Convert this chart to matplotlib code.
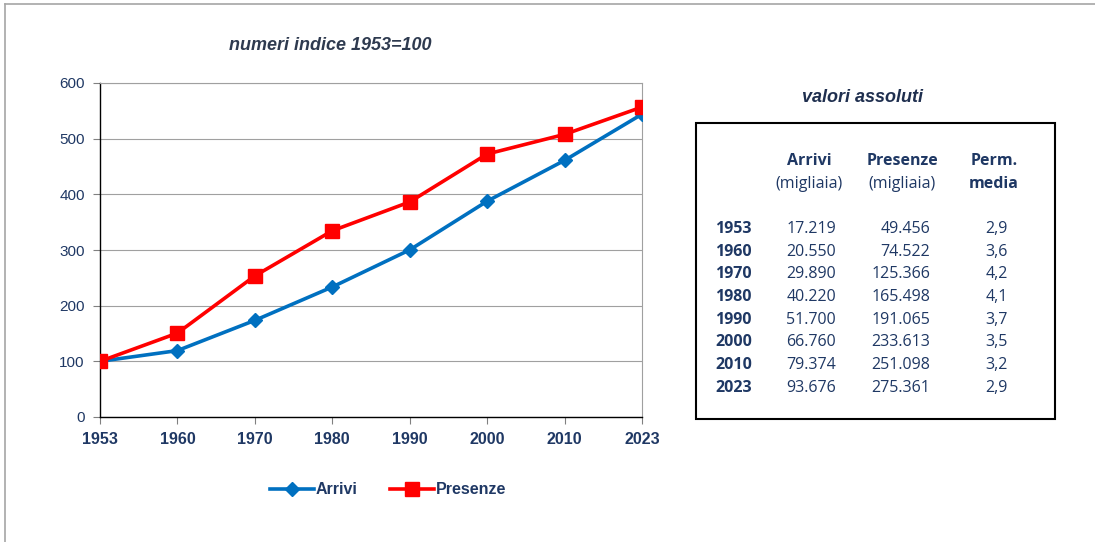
import matplotlib
matplotlib.use("Agg")
import matplotlib.pyplot as plt
from matplotlib.patches import Rectangle
from matplotlib.lines import Line2D

years = ["1953", "1960", "1970", "1980", "1990", "2000", "2010", "2023"]
arrivi_idx = [100, 119.3, 173.6, 233.6, 300.2, 387.7, 461.0, 544.0]
presenze_idx = [100, 150.7, 253.5, 334.6, 386.3, 472.4, 507.7, 556.8]

arrivi_abs = ["17.219", "20.550", "29.890", "40.220", "51.700", "66.760", "79.374", "93.676"]
presenze_abs = ["49.456", "74.522", "125.366", "165.498", "191.065", "233.613", "251.098", "275.361"]
perm_media = ["2,9", "3,6", "4,2", "4,1", "3,7", "3,5", "3,2", "2,9"]

NAVY = "#1F3864"
BLUE = "#0070C0"
RED = "#FF0000"
narrow = ["Liberation Sans Narrow", "Liberation Sans", "DejaVu Sans"]
tabfont = ["Open Sans", "DejaVu Sans"]

W, H = 1095, 542
fig = plt.figure(figsize=(W / 100, H / 100), dpi=100)

def fx(x):
    return x / W

def fy(y):
    return 1 - y / H

# outer frame (top and left edges visible)
fig.add_artist(Line2D([fx(5), fx(1095)], [fy(4), fy(4)], color="#A6A6A6", lw=1.2))
fig.add_artist(Line2D([fx(5), fx(5)], [fy(4), fy(542)], color="#A6A6A6", lw=1.2))

ax = fig.add_axes([fx(100), fy(417), fx(642) - fx(100), fy(83) - fy(417)])
x = list(range(len(years)))
ax.plot(x, arrivi_idx, color=BLUE, lw=2.6, marker="D", ms=7, label="Arrivi", zorder=3)
ax.plot(x, presenze_idx, color=RED, lw=2.6, marker="s", ms=9.5, label="Presenze", zorder=4)
ax.set_xlim(0, len(years) - 1)
ax.set_ylim(0, 600)
ax.set_yticks(range(0, 601, 100))
ax.grid(axis="y", color="#A0A0A0", lw=0.8)
ax.set_axisbelow(True)
ax.set_xticks(x)
ax.set_xticklabels(years)
for s in ["top", "right"]:
    ax.spines[s].set_color("#A0A0A0")
for s in ["left", "bottom"]:
    ax.spines[s].set_color("black")
    ax.spines[s].set_linewidth(1.0)
ax.tick_params(axis="y", length=5, color="#808080", labelsize=11, labelcolor=NAVY, pad=6)
ax.tick_params(axis="x", length=5, color="#808080", labelsize=11.5, labelcolor=NAVY, pad=6)
for t in ax.get_yticklabels():
    t.set_family(["Liberation Sans", "DejaVu Sans"])
for t in ax.get_xticklabels():
    t.set_family(narrow)
    t.set_fontweight("bold")

fig.text(fx(330), fy(45), "numeri indice 1953=100", ha="center", va="center",
         fontsize=13, style="italic", fontweight="bold", color="#2E3A4F",
         family=["Liberation Sans Narrow", "Liberation Sans", "DejaVu Sans"])

leg = fig.legend(handles=ax.get_lines(), loc="center", bbox_to_anchor=(fx(388), fy(490)),
                 ncol=2, frameon=False, handlelength=2.8, handletextpad=0.1,
                 columnspacing=2.0, prop={"family": narrow, "weight": "bold", "size": 11.5})
for t in leg.get_texts():
    t.set_color(NAVY)

# table
fig.text(fx(863), fy(97), "valori assoluti", ha="center", va="center",
         fontsize=13, style="italic", fontweight="bold", color="#1F2F4F",
         family=["Liberation Sans", "DejaVu Sans"])
fig.add_artist(Rectangle((fx(696), fy(419)), fx(1055) - fx(696), fy(123) - fy(419),
                         fill=False, ec="black", lw=1.5))

hs = 11.5
fig.text(fx(809), fy(161), "Arrivi", ha="center", va="center", fontsize=hs,
         fontweight="bold", color=NAVY, family=tabfont)
fig.text(fx(809), fy(184), "(migliaia)", ha="center", va="center", fontsize=hs,
         color=NAVY, family=tabfont)
fig.text(fx(902), fy(161), "Presenze", ha="center", va="center", fontsize=hs,
         fontweight="bold", color=NAVY, family=tabfont)
fig.text(fx(902), fy(184), "(migliaia)", ha="center", va="center", fontsize=hs,
         color=NAVY, family=tabfont)
fig.text(fx(994), fy(161), "Perm.", ha="center", va="center", fontsize=hs,
         fontweight="bold", color=NAVY, family=tabfont)
fig.text(fx(994), fy(184), "media", ha="center", va="center", fontsize=hs,
         fontweight="bold", color=NAVY, family=tabfont)

row0, step = 229, 22.7
for i, yr in enumerate(years):
    yy = fy(row0 + i * step)
    fig.text(fx(715), yy, yr, ha="left", va="center", fontsize=hs,
             fontweight="bold", color=NAVY, family=tabfont)
    fig.text(fx(836), yy, arrivi_abs[i], ha="right", va="center", fontsize=hs,
             color=NAVY, family=tabfont)
    fig.text(fx(930), yy, presenze_abs[i], ha="right", va="center", fontsize=hs,
             color=NAVY, family=tabfont)
    fig.text(fx(1008), yy, perm_media[i], ha="right", va="center", fontsize=hs,
             color=NAVY, family=tabfont)

fig.savefig("out.png", dpi=100, facecolor="white")
